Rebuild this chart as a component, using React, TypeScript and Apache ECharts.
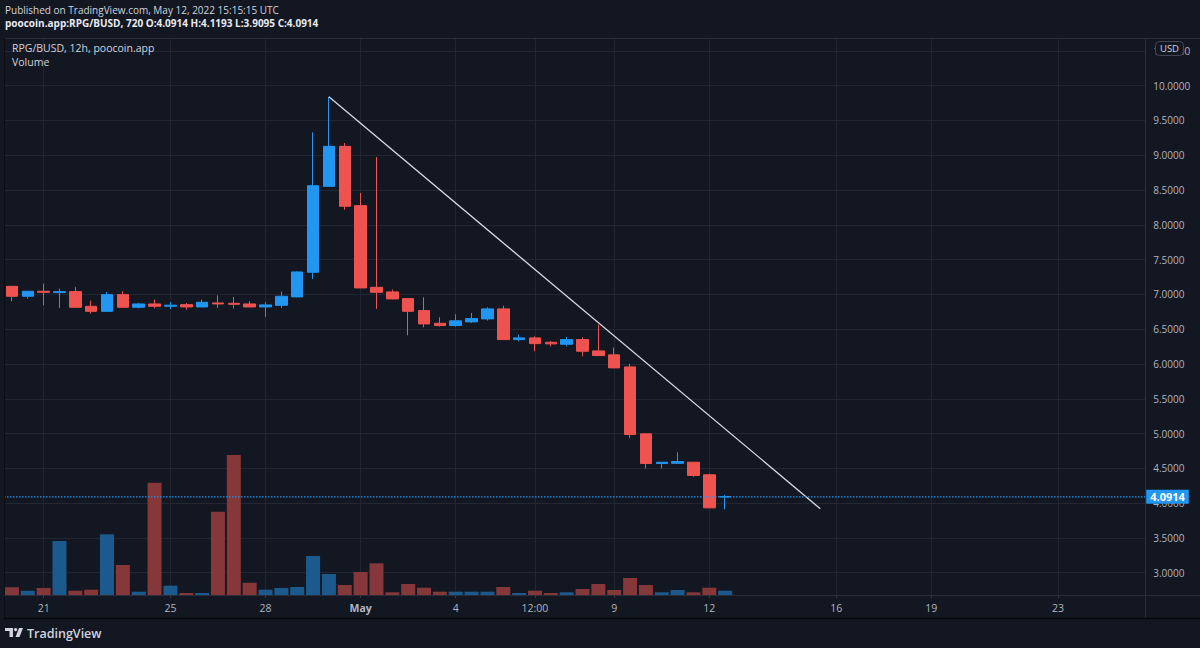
import { useEffect, useRef } from "react";
import * as echarts from "echarts";

// ---------- DATA ----------
const dates = [
  "2022-04-20 00:00", "2022-04-20 12:00", "2022-04-21 00:00", "2022-04-21 12:00",
  "2022-04-22 00:00", "2022-04-22 12:00", "2022-04-23 00:00", "2022-04-23 12:00",
  "2022-04-24 00:00", "2022-04-24 12:00", "2022-04-25 00:00", "2022-04-25 12:00",
  "2022-04-26 00:00", "2022-04-26 12:00", "2022-04-27 00:00", "2022-04-27 12:00",
  "2022-04-28 00:00", "2022-04-28 12:00", "2022-04-29 00:00", "2022-04-29 12:00",
  "2022-04-30 00:00", "2022-04-30 12:00", "2022-05-01 00:00", "2022-05-01 12:00",
  "2022-05-02 00:00", "2022-05-02 12:00", "2022-05-03 00:00", "2022-05-03 12:00",
  "2022-05-04 00:00", "2022-05-04 12:00", "2022-05-05 00:00", "2022-05-05 12:00",
  "2022-05-06 00:00", "2022-05-06 12:00", "2022-05-07 00:00", "2022-05-07 12:00",
  "2022-05-08 00:00", "2022-05-08 12:00", "2022-05-09 00:00", "2022-05-09 12:00",
  "2022-05-10 00:00", "2022-05-10 12:00", "2022-05-11 00:00", "2022-05-11 12:00",
  "2022-05-12 00:00", "2022-05-12 12:00",
];
const opens = [
  7.116, 6.973, 7.045, 7.026, 7.04, 6.829, 6.757, 6.997, 6.815, 6.863,
  6.83, 6.853, 6.82, 6.877, 6.872, 6.863, 6.82, 6.843, 6.964, 7.318,
  8.553, 9.128, 8.276, 7.102, 7.036, 6.94, 6.767, 6.585, 6.552, 6.605,
  6.648, 6.792, 6.351, 6.375, 6.312, 6.283, 6.351, 6.188, 6.131, 5.958,
  4.996, 4.569, 4.573, 4.588, 4.407, 4.0914,
];
const closes = [
  6.973, 7.045, 7.03, 7.04, 6.815, 6.757, 6.997, 6.815, 6.863, 6.829,
  6.845, 6.82, 6.887, 6.863, 6.858, 6.82, 6.849, 6.973, 7.323, 8.563,
  9.128, 8.266, 7.093, 7.03, 6.935, 6.757, 6.576, 6.552, 6.62, 6.652,
  6.792, 6.351, 6.375, 6.293, 6.289, 6.351, 6.183, 6.121, 5.944, 4.986,
  4.569, 4.588, 4.598, 4.397, 3.932, 4.0914,
];
const lows = [
  6.901, 6.94, 6.843, 6.806, 6.806, 6.724, 6.75, 6.806, 6.8, 6.8,
  6.79, 6.782, 6.815, 6.806, 6.796, 6.815, 6.677, 6.806, 6.96, 7.222,
  8.55, 8.218, 7.09, 6.79, 6.93, 6.412, 6.527, 6.537, 6.537, 6.59,
  6.624, 6.35, 6.326, 6.183, 6.254, 6.254, 6.11, 6.12, 5.94, 4.938,
  4.497, 4.497, 4.57, 4.378, 3.93, 3.9095,
];
const highs = [
  7.12, 7.05, 7.155, 7.083, 7.108, 6.911, 7.036, 7.045, 6.877, 6.925,
  6.89, 6.877, 6.925, 6.987, 6.964, 6.901, 6.89, 7.04, 7.33, 9.329,
  9.838, 9.177, 8.458, 8.976, 7.07, 6.945, 6.958, 6.671, 6.714, 6.734,
  6.815, 6.839, 6.422, 6.398, 6.332, 6.389, 6.384, 6.566, 6.236, 6.001,
  5.0, 4.59, 4.731, 4.59, 4.425, 4.1193,
];
const volumes = [
  7.7, 4.3, 7, 54, 4.3, 5.3, 60.7, 30, 3.3, 112.3,
  9.3, 2, 2, 83.3, 140, 12.3, 5.3, 7, 8, 39,
  21, 10, 23, 31.7, 2.7, 11, 7.3, 3.3, 3.3, 3.3,
  3.3, 8, 2, 4.3, 2, 2.7, 6, 11, 5, 17,
  10, 2.7, 5, 2.7, 7.3, 4.3,
];
const timeTickLabels: [string, string][] = [
  ["2022-04-21 00:00", "21"],
  ["2022-04-25 00:00", "25"],
  ["2022-04-28 00:00", "28"],
  ["2022-05-01 00:00", "May"],
  ["2022-05-04 00:00", "4"],
  ["2022-05-06 12:00", "12:00"],
  ["2022-05-09 00:00", "9"],
  ["2022-05-12 00:00", "12"],
  ["2022-05-16 00:00", "16"],
  ["2022-05-19 00:00", "19"],
  ["2022-05-23 00:00", "23"],
];
const axisStart = "2022-04-19 18:00";
const axisEnd = "2022-05-25 18:00";
const priceMin = 2.5;
const priceMax = 11;
const priceStep = 0.5;
const volumeMax = 557;
const lastPrice = 4.0914;
const trendDates = ["2022-04-30 00:00", "2022-05-15 12:00"];
const trendPrices = [9.84, 3.92];

// ---------- STYLE ----------
const BG = "#131722";
const GRID = "#222633";
const UP = "#2196F3";
const DOWN = "#EF5350";
const VUP = "#1c5a8e";
const VDOWN = "#853739";
const LABEL = "#b2b5be";
const TEXT = "#d1d4dc";
const TREND = "#d8dbe2";
const FONT = '"Open Sans", "Noto Sans", sans-serif';

const ts = (s: string) =>
  Date.UTC(+s.slice(0, 4), +s.slice(5, 7) - 1, +s.slice(8, 10), +s.slice(11, 13), +s.slice(14, 16));
// position on the x axis, in 12h periods from the first candle
const pos = (s: string) => (ts(s) - ts(dates[0])) / 43200000;

export default function App() {
  const ref = useRef<HTMLDivElement>(null);

  useEffect(() => {
    const chart = echarts.init(ref.current!, null, { renderer: "svg" });
    const labelMap: Record<string, string> = {};
    timeTickLabels.forEach(([d, t]) => (labelMap[String(pos(d))] = t));
    const tickValues = timeTickLabels.map(([d]) => pos(d));

    const candleData = dates.map((d, i) => [pos(d), opens[i], closes[i], lows[i], highs[i]]);
    const volData = dates.map((d, i) => {
      const up = closes[i] > opens[i] || (closes[i] === opens[i] && i > 0 && closes[i] >= closes[i - 1]);
      return { value: [pos(d), volumes[i]], itemStyle: { color: up ? VUP : VDOWN } };
    });
    const trendData = trendDates.map((d, i) => [pos(d), trendPrices[i]]);
    const lastPriceData = [
      [pos(axisStart), lastPrice],
      [pos(axisEnd), lastPrice],
    ];

    const xCommon = { type: "value", min: pos(axisStart), max: pos(axisEnd) };

    const option: any = {
      backgroundColor: BG,
      animation: false,
      textStyle: { fontFamily: FONT },
      grid: [
        { left: 4, right: 54.8, top: 16.1, bottom: 40.5 },
        { left: 4, right: 54.8, top: 38, bottom: 53 },
      ],
      xAxis: [
        { ...xCommon, gridIndex: 0, show: false },
        {
          ...xCommon,
          gridIndex: 1,
          axisLine: { show: false },
          axisTick: { show: true, customValues: tickValues, length: 3, lineStyle: { color: "#3a3e4a" } },
          axisLabel: {
            customValues: tickValues,
            color: LABEL,
            fontSize: 10.5,
            margin: 7,
            hideOverlap: false,
            formatter: (v: number) => {
              const t = labelMap[String(v)] ?? "";
              return t === "May" ? "{b|May}" : t;
            },
            rich: { b: { fontWeight: "bold", color: LABEL, fontSize: 10.5 } },
          },
          splitLine: { show: true, lineStyle: { color: GRID, width: 1 } },
        },
      ],
      yAxis: [
        {
          type: "value",
          gridIndex: 0,
          position: "right",
          min: priceMin,
          max: priceMax,
          interval: priceStep,
          axisLine: { show: false },
          axisTick: { show: false },
          axisLabel: {
            color: LABEL,
            fontSize: 10,
            margin: 8,
            formatter: (v: number) => (v < 2.9 || v > 10.6 ? "" : v.toFixed(4)),
          },
          splitLine: { show: true, lineStyle: { color: GRID, width: 1 }, showMinLine: false, showMaxLine: false },
        },
        { type: "value", gridIndex: 1, min: 0, max: volumeMax, show: false },
      ],
      series: [
        {
          type: "bar",
          name: "Volume",
          xAxisIndex: 1,
          yAxisIndex: 1,
          barWidth: 14,
          data: volData,
          z: 1,
          silent: true,
        },
        {
          type: "candlestick",
          name: "RPG/BUSD",
          xAxisIndex: 0,
          yAxisIndex: 0,
          barWidth: 12,
          encode: { x: 0, y: [1, 2, 3, 4] },
          data: candleData,
          itemStyle: { color: UP, color0: DOWN, borderColor: UP, borderColor0: DOWN, borderWidth: 1 },
          z: 3,
          silent: true,
        },
        {
          type: "line",
          name: "Last price",
          xAxisIndex: 0,
          yAxisIndex: 0,
          data: lastPriceData,
          showSymbol: false,
          symbol: "none",
          lineStyle: { color: UP, width: 1.2, type: [1.5, 1.5] },
          endLabel: {
            show: true,
            distance: 1,
            formatter: lastPrice.toFixed(4),
            backgroundColor: UP,
            color: "#ffffff",
            fontSize: 11,
            fontWeight: "bold",
            padding: [2, 4, 1, 4],
          },
          z: 5,
          silent: true,
        },
        {
          type: "line",
          name: "Trend line",
          xAxisIndex: 0,
          yAxisIndex: 0,
          data: trendData,
          showSymbol: false,
          symbol: "none",
          lineStyle: { color: TREND, width: 1.3 },
          z: 4,
          silent: true,
        },
      ],
      graphic: [
        { type: "line", shape: { x1: 4, y1: 38.5, x2: 1200, y2: 38.5 }, style: { stroke: "#2a2e39", lineWidth: 1 }, z: 50 },
        { type: "line", shape: { x1: 4.5, y1: 38, x2: 4.5, y2: 618 }, style: { stroke: "#0b0e14", lineWidth: 1 }, z: 50 },
        { type: "line", shape: { x1: 4, y1: 595.5, x2: 1200, y2: 595.5 }, style: { stroke: "#2a2e39", lineWidth: 1 }, z: 50 },
        { type: "line", shape: { x1: 1145.5, y1: 38, x2: 1145.5, y2: 618 }, style: { stroke: "#2a2e39", lineWidth: 1 }, z: 50 },
        { type: "line", shape: { x1: 4, y1: 618.5, x2: 1200, y2: 618.5 }, style: { stroke: "#06080c", lineWidth: 1.5 }, z: 50 },
        {
          type: "text", x: 5, y: 10, z: 60,
          style: { text: "Published on TradingView.com, May 12, 2022 15:15:15 UTC", fill: TEXT, fontSize: 10, fontFamily: FONT, verticalAlign: "middle" },
        },
        {
          type: "text", x: 5, y: 23, z: 60,
          style: { text: "poocoin.app:RPG/BUSD, 720 O:4.0914 H:4.1193 L:3.9095 C:4.0914", fill: "#e8eaf0", fontSize: 10, fontWeight: "bold", fontFamily: FONT, verticalAlign: "middle" },
        },
        {
          type: "text", x: 12, y: 48, z: 60,
          style: { text: "RPG/BUSD, 12h, poocoin.app", fill: TEXT, fontSize: 10.5, fontFamily: FONT, verticalAlign: "middle" },
        },
        {
          type: "text", x: 12, y: 62, z: 60,
          style: { text: "Volume", fill: TEXT, fontSize: 10.5, fontFamily: FONT, verticalAlign: "middle" },
        },
        {
          type: "rect", z: 60,
          shape: { x: 1155.5, y: 41.5, width: 28, height: 14, r: 4 },
          style: { fill: BG, stroke: "#434651", lineWidth: 1 },
        },
        {
          type: "text", x: 1169.5, y: 48.5, z: 61,
          style: { text: "USD", fill: TEXT, fontSize: 9.5, fontFamily: FONT, align: "center", verticalAlign: "middle" },
        },
        { type: "rect", z: 60, shape: { x: 5, y: 628, width: 8, height: 3 }, style: { fill: TEXT } },
        { type: "rect", z: 60, shape: { x: 9.5, y: 628, width: 3.5, height: 9 }, style: { fill: TEXT } },
        { type: "circle", z: 60, shape: { cx: 15.6, cy: 629.6, r: 1.7 }, style: { fill: TEXT } },
        { type: "polygon", z: 60, shape: { points: [[19, 628], [23, 628], [19.5, 637], [15.5, 637]] }, style: { fill: TEXT } },
        {
          type: "text", x: 27, y: 633, z: 60,
          style: { text: "TradingView", fill: TEXT, fontSize: 12.5, fontWeight: 600, fontFamily: FONT, verticalAlign: "middle" },
        },
      ],
    };
    chart.setOption(option);
    return () => chart.dispose();
  }, []);

  return (
    <div
      ref={ref}
      style={{ position: "fixed", left: 0, top: 0, width: 1200, height: 648, background: BG }}
    />
  );
}
